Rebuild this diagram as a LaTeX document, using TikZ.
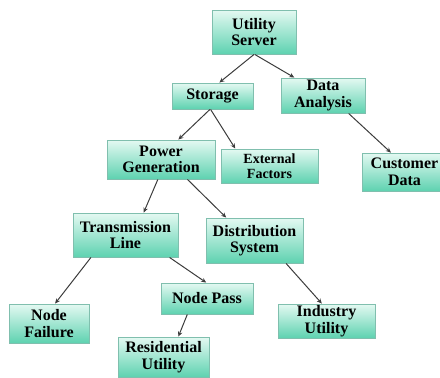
\documentclass[tikz,border=0pt]{standalone}
\usepackage{fontspec}
\setmainfont{Liberation Serif}
\usetikzlibrary{arrows.meta,shadows}
\definecolor{boxtop}{HTML}{E4F9F2}
\definecolor{boxbot}{HTML}{5ED2B0}
\definecolor{boxline}{HTML}{80BFAE}
\definecolor{arrowgray}{HTML}{3C3C3C}

\begin{document}
\begin{tikzpicture}[x=1pt, y=-1pt,
  box/.style={rectangle, draw=boxline, line width=0.9pt, top color=boxtop, bottom color=boxbot,
    drop shadow={opacity=0.25, shadow xshift=0.8pt, shadow yshift=-0.8pt},
    align=center, inner sep=1pt, font=\fontsize{16}{16.5}\selectfont\bfseries},
  link/.style={-{Stealth[length=5pt, width=4.5pt]}, draw=arrowgray, line width=1pt}]
  \useasboundingbox (0,0) rectangle (440,378);

  % Nodes
  \node[box, minimum width=84pt, minimum height=44pt] (util) at (254,32) {Utility\\Server};
  \node[box, minimum width=81pt, minimum height=26pt] (storage) at (212.5,96) {Storage};
  \node[box, minimum width=84pt, minimum height=35pt] (data) at (323,95.5) {Data\\Analysis};
  \node[box, minimum width=108pt, minimum height=39pt] (power) at (161,159.5) {Power\\Generation};
  \node[box, minimum width=97pt, minimum height=34pt, font=\fontsize{14}{15.5}\selectfont\bfseries] (external) at (269.5,166) {External\\Factors};
  \node[box, minimum width=84pt, minimum height=38pt] (customer) at (404.5,172) {Customer\\Data};
  \node[box, minimum width=105pt, minimum height=44pt] (trans) at (125.5,235) {Transmission\\Line};
  \node[box, minimum width=97pt, minimum height=45pt] (distrib) at (254.5,240.5) {Distribution\\System};
  \node[box, minimum width=80pt, minimum height=39pt] (failure) at (49,323.5) {Node\\Failure};
  \node[box, minimum width=92pt, minimum height=31pt] (pass) at (207,298.5) {Node Pass};
  \node[box, minimum width=91pt, minimum height=40pt] (resid) at (163.5,357) {Residential\\Utility};
  \node[box, minimum width=97pt, minimum height=34pt] (industry) at (326.5,321) {Industry\\Utility};

  % Edges
  \foreach \a/\b in {util.270/storage.63, util.272/data.148, storage.259/power.49,
    storage.262/external.153, data.325/customer.125, power.261/trans.51,
    power.323/distrib.141, trans.213/failure.73, trans.333/pass.93,
    pass.219/resid.54, distrib.324/industry.105}
    \draw[link] (\a) -- (\b);
\end{tikzpicture}
\end{document}
